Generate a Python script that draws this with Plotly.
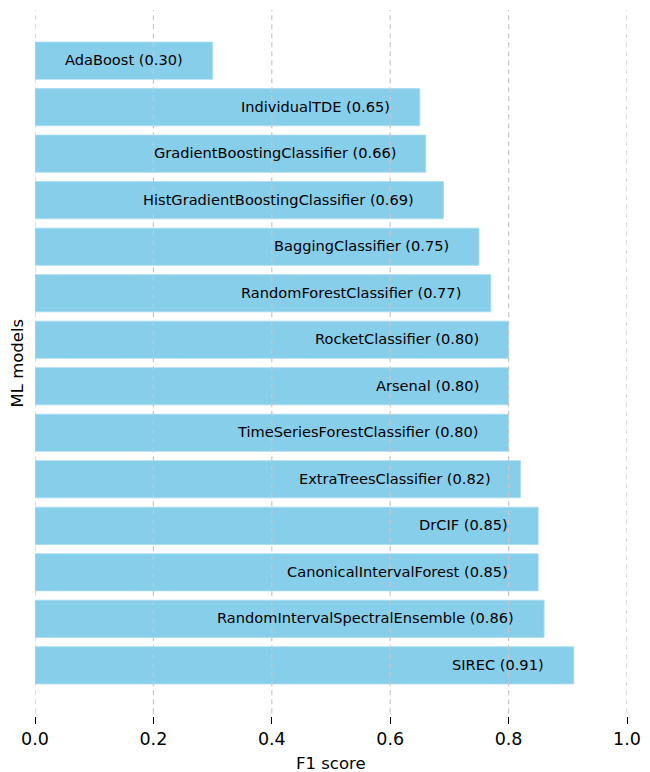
import plotly.graph_objects as go

models = ["AdaBoost", "IndividualTDE", "GradientBoostingClassifier",
          "HistGradientBoostingClassifier", "BaggingClassifier",
          "RandomForestClassifier", "RocketClassifier", "Arsenal",
          "TimeSeriesForestClassifier", "ExtraTreesClassifier", "DrCIF",
          "CanonicalIntervalForest", "RandomIntervalSpectralEnsemble", "SIREC"]
f1_scores = [0.30, 0.65, 0.66, 0.69, 0.75, 0.77, 0.80, 0.80, 0.80, 0.82,
             0.85, 0.85, 0.86, 0.91]
x_ticks = [0.0, 0.2, 0.4, 0.6, 0.8, 1.0]

# bottom-to-top order for plotly
ys = models[::-1]
xs = f1_scores[::-1]

FONT = "DejaVu Sans"

fig = go.Figure()
fig.add_trace(go.Bar(
    x=xs, y=ys, orientation="h", width=0.8,
    marker=dict(color="#87CEEB", line=dict(color="#a8dcf0", width=0.8)),
    hoverinfo="skip",
))

for m, v in zip(ys, xs):
    fig.add_annotation(x=v - 0.047, y=m, xref="x", yref="y",
                       text=f"{m} ({v:.2f})", showarrow=False,
                       xanchor="right", yanchor="middle", yshift=1,
                       font=dict(family=FONT, size=14.6, color="black"))

# dashed grid lines drawn above the bars
for t in x_ticks:
    fig.add_shape(type="line", x0=t, x1=t, xref="x", y0=0.004, y1=1.0, yref="paper",
                  line=dict(color="#c8c8c8", width=1.2, dash="5px,4px"),
                  layer="above")

# axis titles
fig.add_annotation(x=0.5, y=-0.0666, xref="paper", yref="paper", text="F1 score",
                   showarrow=False, xanchor="center", yanchor="middle",
                   font=dict(family=FONT, size=16.5, color="black"))
fig.add_annotation(x=-0.0296, y=0.5, xref="paper", yref="paper", text="ML models",
                   showarrow=False, xanchor="center", yanchor="middle", textangle=-90,
                   font=dict(family=FONT, size=16.5, color="black"))

fig.update_layout(
    width=650, height=772,
    margin=dict(l=27, r=31, t=2, b=64),
    plot_bgcolor="white", paper_bgcolor="white",
    showlegend=False,
    font=dict(family=FONT, color="black"),
)
fig.update_xaxes(
    range=[0, 1.0], tickvals=x_ticks, ticktext=[f"{t:.1f}" for t in x_ticks],
    showgrid=False, zeroline=False, showline=False, automargin=False,
    ticks="outside", ticklen=7, tickwidth=1.2, tickcolor="black",
    tickfont=dict(family=FONT, size=17.5, color="black"),
)
fig.update_yaxes(
    categoryorder="array", categoryarray=ys,
    range=[-1.09, 14.09], showticklabels=False, ticks="", automargin=False,
    showgrid=False, zeroline=False, showline=False,
)

fig.write_html("out.html")
